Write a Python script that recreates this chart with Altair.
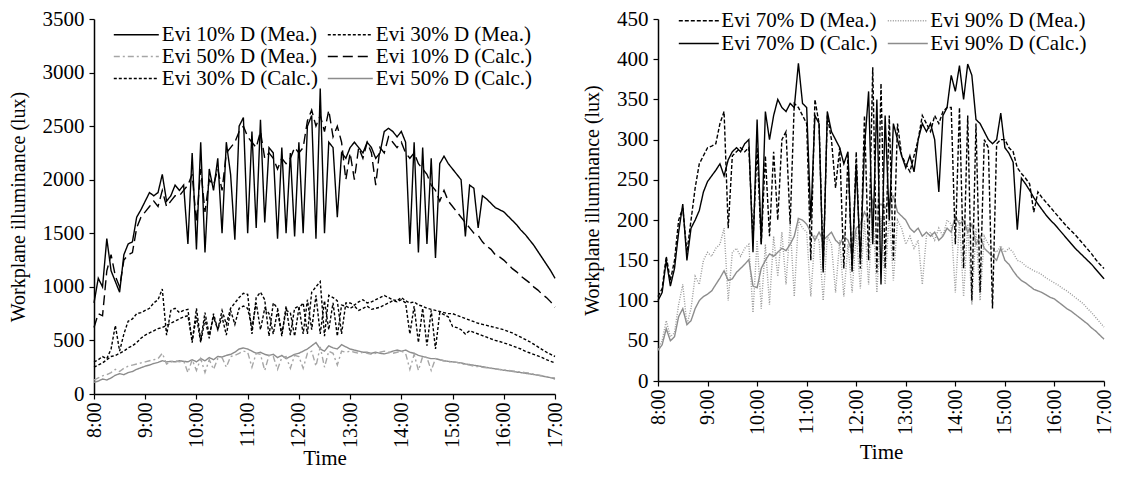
import altair as alt
import pandas as pd

# time axis: minutes after midnight, 5-minute steps 8:00 .. 17:00
TIMES = list(range(480, 1021, 5))
HOUR_TICKS = list(range(480, 1021, 60))

# ---------------- left panel (lux) ----------------
E10_MEA = [850, 1080, 1000, 1450, 1150, 1050, 950, 1300, 1400, 1420, 1650, 1720,
           1800, 1880, 1850, 1880, 2050, 1800, 1850, 1950, 1900, 1950, 1400, 2250,
           1350, 2350, 1320, 2100, 1900, 2200, 1500, 2350, 2050, 1440, 2500, 2580,
           1500, 2450, 1550, 2560, 1600, 2300, 2250, 1450, 2300, 1500, 2250, 1470,
           2350, 1500, 2500, 2600, 1450, 2850, 1500, 2350, 2300, 1650, 2250, 2200,
           2300, 2350, 2300, 2250, 2350, 2300, 2200, 2250, 2450, 2480, 2450, 2400,
           2450, 2350, 1400, 2350, 1320, 2300, 1400, 2200, 1270, 2150, 2220, 2150,
           2100, 2050, 2000, 1470, 1950, 1920, 1550, 1850, 1820, 1780, 1740, 1720,
           1700, 1660, 1620, 1580, 1530, 1490, 1440, 1390, 1330, 1270, 1210, 1150,
           1080]
E30_MEA = [300, 320, 350, 330, 420, 640, 400, 560, 680, 700, 750, 760,
           780, 800, 850, 880, 980, 550, 780, 800, 760, 780, 790, 480,
           800, 500, 760, 550, 720, 600, 780, 650, 800, 850, 900, 940,
           930, 560, 900, 950, 880, 540, 850, 800, 560, 780, 760, 540,
           800, 850, 560, 950, 1000, 1050, 540, 920, 900, 870, 560, 850,
           850, 830, 860, 880, 850, 860, 880, 900, 920, 900, 880, 870,
           900, 870, 850, 860, 830, 820, 800, 790, 780, 770, 760, 750,
           750, 735, 720, 705, 690, 675, 660, 650, 640, 630, 620, 610,
           600, 585, 570, 550, 530, 510, 490, 465, 440, 415, 390, 370,
           350]
E50_MEA = [130, 150, 170, 180, 200, 230, 210, 240, 260, 270, 280, 290,
           300, 310, 320, 330, 380, 280, 300, 310, 300, 310, 200, 320,
           220, 330, 200, 320, 230, 330, 340, 250, 350, 360, 380, 400,
           390, 250, 380, 370, 220, 360, 350, 230, 340, 350, 240, 360,
           350, 240, 380, 400, 260, 440, 250, 400, 380, 270, 400, 390,
           400, 390, 380, 390, 380, 370, 380, 390, 400, 390, 380, 390,
           400, 380, 230, 370, 220, 350, 340, 220, 330, 320, 310, 300,
           300, 295, 285, 275, 270, 260, 255, 250, 245, 240, 235, 230,
           225, 220, 215, 210, 205, 200, 195, 185, 178, 170, 162, 155,
           150]
E10_CALC = [620, 750, 730, 1150, 1300, 1100, 1000, 1250, 1300, 1320, 1550, 1650,
            1700, 1750, 1800, 1750, 1900, 1750, 1800, 1850, 1850, 1900, 1950, 2050,
            1600, 2100, 1700, 2000, 1950, 2100, 1900, 2250, 2300, 2350, 2450, 2500,
            2400, 2350, 2300, 2450, 2200, 2250, 2200, 2100, 2200, 2150, 2200, 2300,
            2250, 2300, 2550, 2650, 2500, 2600, 2450, 2650, 2400, 2500, 2350, 2000,
            2250, 2000, 2300, 2200, 2350, 2250, 1950, 2300, 2250, 2400, 2350, 2300,
            2350, 2250, 2200, 2250, 2150, 2100, 2050, 1950, 1900, 1800, 1900, 1800,
            1750, 1700, 1650, 1600, 1550, 1500, 1480, 1420, 1380, 1350, 1300, 1280,
            1250, 1210, 1170, 1140, 1100, 1070, 1040, 1000, 970, 930, 900, 860,
            810]
E30_CALC = [250, 270, 290, 320, 350, 360, 380, 400, 430, 450, 480, 520,
            550, 570, 590, 610, 620, 640, 660, 680, 700, 720, 730, 500,
            720, 480, 700, 520, 750, 600, 720, 550, 780, 650, 800, 820,
            800, 620, 850, 600, 800, 750, 560, 780, 540, 820, 550, 800,
            820, 560, 880, 600, 920, 560, 870, 600, 850, 540, 830, 820,
            800, 820, 780, 800, 820, 790, 800, 810, 830, 850, 870, 860,
            880, 850, 560, 820, 480, 800, 450, 780, 420, 760, 740, 720,
            630, 620, 600, 560, 590, 575, 560, 545, 530, 515, 500, 490,
            477, 465, 450, 435, 420, 400, 385, 370, 355, 340, 320, 305,
            290]
E50_CALC = [110, 120, 140, 130, 150, 175, 190, 180, 200, 210, 230, 245,
            260, 270, 285, 295, 310, 300, 305, 300, 310, 305, 300, 320,
            300, 330, 310, 340, 320, 350, 345, 360, 370, 390, 420, 430,
            420, 400, 380, 390, 370, 360, 370, 340, 360, 330, 350, 370,
            380, 400, 420, 450, 480, 420, 400, 450, 430, 420, 460, 440,
            420, 410, 400, 390, 390, 380, 390, 380, 375, 385, 400, 410,
            400, 410, 390, 380, 360, 350, 340, 330, 330, 320, 310, 305,
            300, 295, 290, 280, 275, 268, 262, 255, 248, 240, 235, 228,
            222, 217, 211, 205, 200, 194, 188, 182, 175, 168, 160, 152,
            140]

# ---------------- right panel (lux) ----------------
E70_MEA = [105, 115, 155, 125, 150, 200, 215, 160, 200, 240, 270, 280,
           290, 292, 295, 320, 335, 190, 280, 285, 290, 285, 290, 175,
           290, 170, 280, 180, 285, 200, 300, 310, 195, 345, 340, 330,
           320, 150, 350, 320, 140, 330, 300, 240, 290, 140, 280, 135,
           285, 140, 330, 150, 390, 135, 370, 140, 330, 150, 320, 280,
           270, 260, 280, 300, 330, 320, 310, 330, 320, 335, 340, 340,
           170, 340, 140, 330, 100, 320, 110, 300, 290, 90, 295, 300,
           300, 290, 285, 265, 258, 252, 245, 210, 235, 228, 222, 216,
           210, 204, 198, 192, 187, 182, 176, 170, 164, 158, 151, 145,
           140]
E90_MEA = [40, 50, 75, 55, 60, 95, 120, 70, 90, 130, 120, 150,
           160, 155, 165, 170, 190, 100, 160, 165, 155, 165, 170, 85,
           175, 90, 170, 95, 180, 130, 185, 120, 195, 105, 200, 190,
           185, 105, 180, 175, 100, 180, 170, 110, 175, 105, 170, 110,
           185, 115, 200, 120, 215, 110, 205, 120, 210, 125, 200, 190,
           170, 180, 165, 175, 120, 180, 185, 175, 190, 180, 200, 195,
           110, 200, 105, 195, 95, 190, 100, 180, 170, 165, 160, 168,
           160, 165, 160, 150, 148, 143, 140, 137, 135, 132, 128, 125,
           122, 119, 115, 112, 108, 104, 100, 96, 90, 85, 79, 73,
           67]
E70_CALC = [100, 110, 150, 118, 140, 185, 220, 150, 190, 200, 212, 235,
            248, 255, 262, 270, 255, 275, 285, 290, 285, 295, 300, 160,
            325, 170, 335, 300, 330, 350, 340, 335, 345, 340, 395, 345,
            340, 200, 330, 320, 135, 335, 310, 300, 290, 270, 285, 140,
            270, 150, 290, 360, 170, 350, 120, 330, 200, 320, 300, 280,
            265, 280, 260, 300, 320, 310, 320, 300, 235, 330, 340, 380,
            360, 392, 350, 394, 380, 325, 320, 310, 300, 295, 300, 333,
            290, 283, 272, 188, 252, 245, 237, 228, 220, 213, 206, 200,
            195, 189, 183, 177, 171, 165, 160, 155, 150, 145, 139, 133,
            127]
E90_CALC = [38, 45, 65, 50, 55, 80, 90, 70, 75, 90, 100, 105,
            108, 112, 120, 128, 137, 125, 127, 135, 140, 145, 151, 118,
            116, 140, 150, 158, 155, 160, 165, 162, 170, 180, 202, 200,
            195, 185, 175, 185, 175, 180, 185, 175, 170, 180, 175, 160,
            190, 195, 210, 200, 225, 215, 220, 215, 225, 230, 210, 205,
            200, 190, 185, 190, 180, 185, 180, 185, 175, 180, 190, 185,
            205, 195, 200, 185, 195, 170, 180, 165, 160, 155, 150, 165,
            150, 145, 137, 130, 125, 122, 118, 114, 112, 110, 107, 104,
            102, 98, 94, 90, 87, 83, 79, 75, 71, 66, 62, 57,
            52]

# legend order is column-major: first column top-to-bottom, then second column
LEFT_NAMES = ["Evi 10% D (Mea.)", "Evi 50% D (Mea.)", "Evi 30% D (Calc.)",
              "Evi 30% D (Mea.)", "Evi 10% D (Calc.)", "Evi 50% D (Calc.)"]
LEFT_VALUES = [E10_MEA, E50_MEA, E30_CALC, E30_MEA, E10_CALC, E50_CALC]
LEFT_COLORS = ["#000000", "#a6a6a6", "#000000", "#000000", "#000000", "#8c8c8c"]
LEFT_DASH = [[1, 0], [6, 3, 2, 3], [3, 2], [3, 2], [10, 5], [1, 0]]
LEFT_DRAW = [5, 1, 2, 3, 4, 0]  # drawing order (grey first)

RIGHT_NAMES = ["Evi 70% D (Mea.)", "Evi 70% D (Calc.)",
               "Evi 90% D (Mea.)", "Evi 90% D (Calc.)"]
RIGHT_VALUES = [E70_MEA, E70_CALC, E90_MEA, E90_CALC]
RIGHT_COLORS = ["#000000", "#000000", "#9a9a9a", "#8c8c8c"]
RIGHT_DASH = [[4, 2], [1, 0], [1, 1.5], [1, 0]]
RIGHT_DRAW = [3, 2, 0, 1]

FONT = "Liberation Serif"


def long_table(names, values):
    rows = []
    for n, vals in zip(names, values):
        for t, v in zip(TIMES, vals):
            rows.append({"t": t, "v": v, "s": n})
    return pd.DataFrame(rows)


def panel(names, values, colors, dashes, draw, ymax, ystep, w, h, legend, xtitlepad):
    df = long_table(names, values)
    x = alt.X("t:Q", title="Time",
              scale=alt.Scale(domain=[480, 1020], nice=False, zero=False),
              axis=alt.Axis(values=HOUR_TICKS, labelExpr="floor(datum.value/60) + ':00'",
                            labelAngle=270, grid=False, tickSize=5, labelPadding=3,
                            labelFontSize=20, titleFontSize=21, titlePadding=xtitlepad))
    y = alt.Y("v:Q", title="Workplane illuminance (lux)",
              scale=alt.Scale(domain=[0, ymax], nice=False),
              axis=alt.Axis(values=list(range(0, ymax + 1, ystep)), format="d", grid=False,
                            tickSize=5, labelPadding=5, titlePadding=14,
                            labelFontSize=21, titleFontSize=20))
    color = alt.Color("s:N", scale=alt.Scale(domain=names, range=colors), legend=legend)
    dash = alt.StrokeDash("s:N", scale=alt.Scale(domain=names, range=dashes), legend=None)
    layers = []
    for i in draw:
        n = names[i]
        layers.append(
            alt.Chart(df).transform_filter(alt.datum.s == n).mark_line(
                strokeWidth=1.4).encode(x=x, y=y, color=color, strokeDash=dash)
        )
    return alt.layer(*layers).properties(width=w, height=h)


common_legend = dict(title=None, orient="none", columns=2, symbolStrokeWidth=1.4,
                     symbolSize=100, symbolFillColor="transparent",
                     labelFont=FONT, labelFontSize=21, labelColor="black",
                     labelLimit=400)

left_legend = alt.Legend(legendX=15, legendY=5, symbolType="M-4.5,0H4.5",
                         symbolOffset=16.8, labelOffset=15, columnPadding=4,
                         rowPadding=0, **common_legend)
right_legend = alt.Legend(legendX=16, legendY=-9, symbolType="M-4.0,0H4.0",
                          symbolOffset=14.3, labelOffset=12, columnPadding=5,
                          rowPadding=1, **common_legend)

left = panel(LEFT_NAMES, LEFT_VALUES, LEFT_COLORS, LEFT_DASH, LEFT_DRAW,
             3500, 500, 461, 375, left_legend, 0)
right = panel(RIGHT_NAMES, RIGHT_VALUES, RIGHT_COLORS, RIGHT_DASH, RIGHT_DRAW,
              450, 50, 446, 362, right_legend, 7)

chart = alt.hconcat(left, right, spacing=17).resolve_scale(
    color="independent", strokeDash="independent"
).resolve_legend(color="independent", strokeDash="independent").properties(
    padding={"left": 0, "top": 0, "right": 0, "bottom": 0}
).configure(font=FONT, background="white").configure_view(stroke=None).configure_axis(
    labelFont=FONT, titleFont=FONT,
    labelColor="black", titleColor="black", titleFontWeight="normal",
    domainColor="black", tickColor="black", domainWidth=1.5, tickWidth=1.2
)

chart.save("out.html", embed_options={"renderer": "svg", "actions": False})
